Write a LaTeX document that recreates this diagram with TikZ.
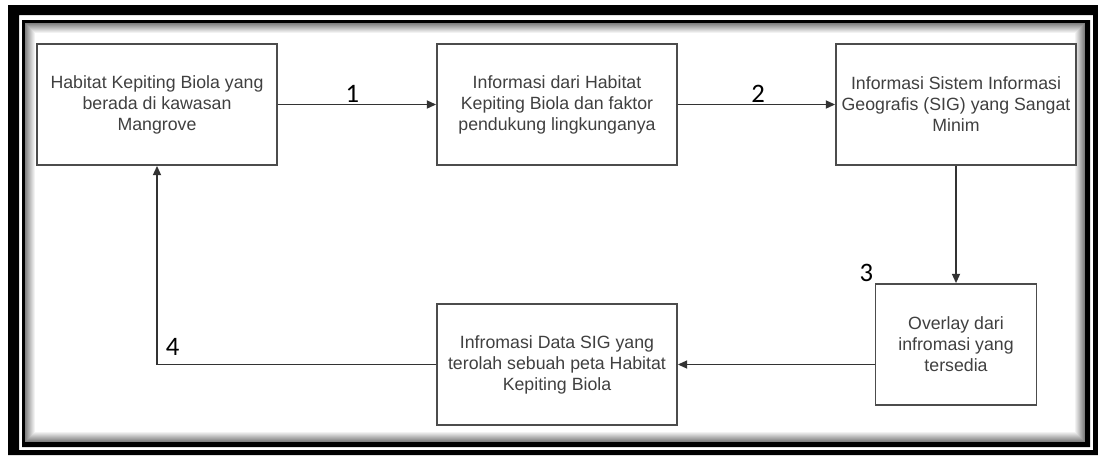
\documentclass[tikz,border=0pt]{standalone}
\usepackage{fontspec}
\setmainfont{Liberation Sans}
\newfontfamily\angka{Carlito}
\usetikzlibrary{arrows.meta}

\tikzset{
  proses/.style={draw=black!70,line width=1.3pt,shape=rectangle,minimum width=180pt,minimum height=90.75pt,
    align=center,text=black!75,font=\fontsize{13.3}{15.75}\selectfont},
  nomor/.style={font=\angka\fontsize{20}{24}\selectfont,inner sep=1pt},
  garis/.style={line width=1.3pt,draw=black!80}
}

\begin{document}
\begin{tikzpicture}[x=0.75pt,y=-0.75pt,>={Triangle[length=7pt,width=6pt]}]
\useasboundingbox (0,0) rectangle (1098,455);
\fill[white] (0,0) rectangle (1098,455);

% bingkai luar dan dalam
\fill[black,even odd rule] (8,5) rectangle (1098,455) (19,15) rectangle (1093,450);
\fill[black,even odd rule] (22,20) rectangle (1090,447) (25,23) rectangle (1085,442);
\foreach \i in {0,...,10} {
  \pgfmathtruncatemacro\tint{50-5*\i}
  \draw[black!\tint,line width=0.75pt] (25.5+\i,23.5+\i) rectangle (1084.5-\i,441.5-\i);
}

\node (habitat) at (157,104.5) [proses] {Habitat Kepiting Biola yang\\berada di kawasan\\Mangrove};
\node (infohabitat) at (557,104.5) [proses] {Informasi dari Habitat\\Kepiting Biola dan faktor\\pendukung lingkunganya};
\node (infosig) at (956,104.5) [proses] {Informasi Sistem Informasi\\Geografis (SIG) yang Sangat\\Minim};
\node (overlay) at (956,344.5) [proses,minimum width=120.75pt] {Overlay dari\\infromasi yang\\tersedia};
\node (petasig) at (557,364.5) [proses] {Infromasi Data SIG yang\\terolah sebuah peta Habitat\\Kepiting Biola};

\node (nomortiga) at (overlay.north west) [nomor,anchor=south east] {3};

\draw [garis,->] (habitat) -- node (nomorsatu) [nomor,above,pos=0.47] {1} (infohabitat);
\draw [garis,->] (infohabitat) -- node (nomordua) [nomor,above,pos=0.51] {2} (infosig);
\draw [garis,->] (infosig) -- (overlay);
\draw [garis,->] (overlay.west |- petasig) -- (petasig);
\draw [garis,->] (petasig) -| node (nomorempat) [nomor,above right,inner sep=6pt] {4} (habitat);
\end{tikzpicture}
\end{document}
